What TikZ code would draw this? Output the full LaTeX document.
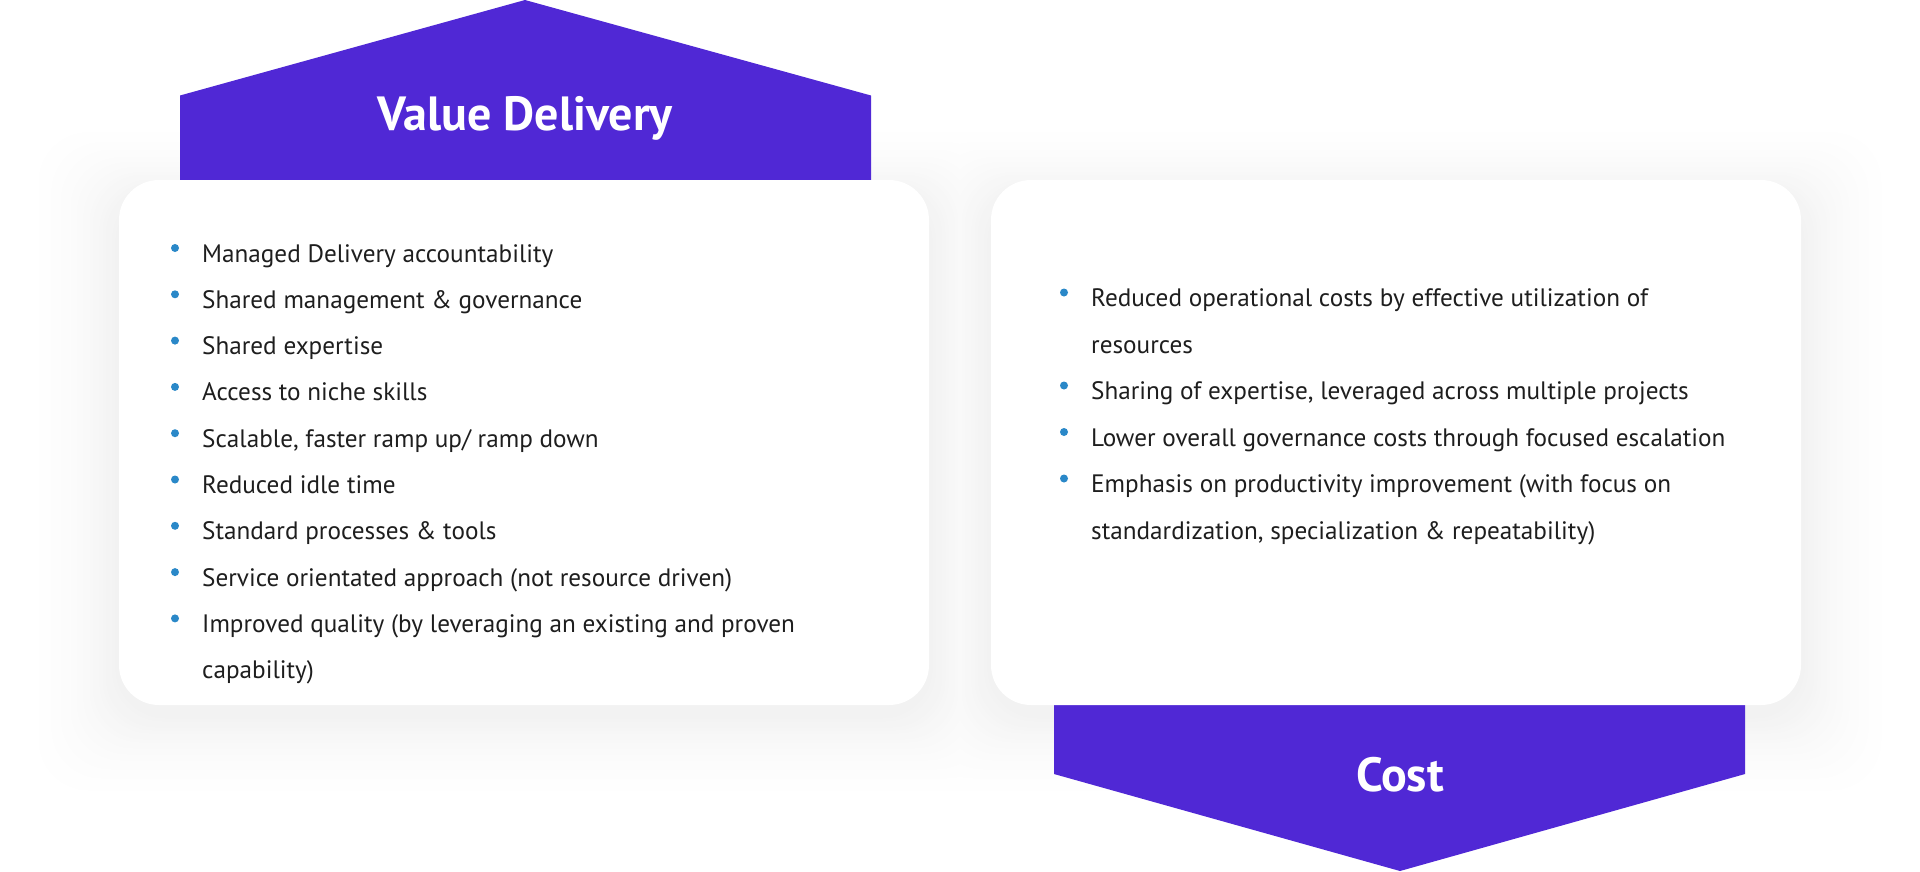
\documentclass[tikz,border=0pt]{standalone}
\usepackage{fontspec}
\setmainfont{PT Sans}
\definecolor{arrowpurple}{HTML}{5028D5}
\definecolor{bulletblue}{HTML}{2A88C8}
\definecolor{bodytext}{HTML}{1E1E1E}
\tikzset{
  banner/.style={fill=arrowpurple, draw=none},
  card/.style={fill=white, draw=none, rounded corners=40pt},
  bantext/.style={text=white, font=\bfseries\fontsize{48}{54}\selectfont, inner sep=0pt},
  item/.style={anchor=base west, inner sep=0pt, text=bodytext, font=\fontsize{25.2}{30}\selectfont},
  bul/.style={circle, fill=bulletblue, minimum size=8pt, inner sep=0pt},
}
\begin{document}
\begin{tikzpicture}[x=1pt,y=-1pt]
\useasboundingbox (0,0) rectangle (1920,871);
% soft shadows (solid layers, outer to inner)
\foreach \i in {30,...,1}{
  \pgfmathsetmacro\g{5.5*(1-\i/31)^2}
  \fill[black!\g, rounded corners=50pt] (119-3.2*\i,195-2.5*\i) rectangle (929+3.2*\i,715+3*\i);
  \fill[black!\g, rounded corners=50pt] (991-3.2*\i,195-2.5*\i) rectangle (1801+3.2*\i,715+3*\i);
}
% banners
\path[banner] (180,200) -- (180,95.5) -- (525,0) -- (871,95.5) -- (871,200) -- cycle;
\path[banner] (1054,690) -- (1054,774) -- (1400,871) -- (1745,774) -- (1745,690) -- cycle;
\node[bantext] (vd) at (525,118) {Value Delivery};
\node[bantext] (cost) at (1400,775) {Cost};
% cards
\path[card] (119,180) rectangle (929,705);
\path[card] (991,180) rectangle (1801,705);
% left items
\foreach \t/\y/\b [count=\k] in {
  Managed Delivery accountability/262/1,
  Shared management \& governance/308.3/1,
  Shared expertise/354.6/1,
  Access to niche skills/400.9/1,
  {Scalable, faster ramp up/ ramp down}/447.2/1,
  Reduced idle time/493.5/1,
  Standard processes \& tools/539.8/1,
  Service orientated approach (not resource driven)/586.1/1,
  Improved quality (by leveraging an existing and proven/632.4/1,
  capability)/678.7/0}{
  \node[item] (l\k) at (202,\y) {\t};
  \ifnum\b=1 \node[bul] (lb\k) at (175,\y-14) {}; \fi
}
% right items
\foreach \t/\y/\b [count=\k] in {
  Reduced operational costs by effective utilization of/306.5/1,
  resources/353/0,
  {Sharing of expertise, leveraged across multiple projects}/399.5/1,
  Lower overall governance costs through focused escalation/446/1,
  Emphasis on productivity improvement (with focus on/492.5/1,
  {standardization, specialization \& repeatability)}/539/0}{
  \node[item] (r\k) at (1091,\y) {\t};
  \ifnum\b=1 \node[bul] (rb\k) at (1064,\y-14) {}; \fi
}
\end{tikzpicture}
\end{document}
